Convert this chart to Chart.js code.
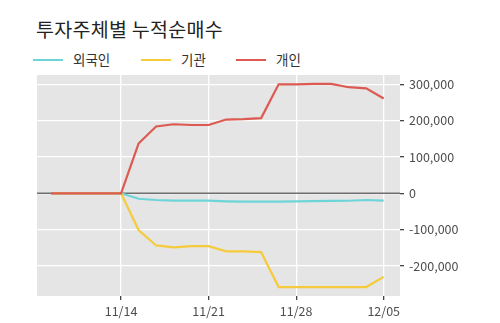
<!DOCTYPE html>
<html><head><meta charset="utf-8">
<script src="https://cdn.jsdelivr.net/npm/chart.js@4/dist/chart.umd.min.js"></script>
<style>
html,body{margin:0;padding:0;background:#fff;}
#wrap{position:relative;width:500px;height:323px;font-family:"Noto Sans CJK KR","Noto Sans",sans-serif;}
#title{position:absolute;left:36px;top:14px;font-size:19.5px;color:#222;white-space:nowrap;letter-spacing:0.3px;}
#legend{position:absolute;left:33px;top:50px;height:20px;}
.li{position:absolute;top:0;height:20px;font-size:13.5px;color:#333;line-height:20px;white-space:nowrap;}
.li span.ln{position:absolute;left:0;top:9px;width:30px;height:2px;}
.li span.tx{position:absolute;left:40px;top:-1px;}
canvas{position:absolute;left:0;top:0;}
</style></head>
<body><div id="wrap">
<div id="title">투자주체별 누적순매수</div>
<div id="legend"></div>
<canvas id="c" width="500" height="323"></canvas>
</div>
<script>
const dates = ['11/08','11/11','11/12','11/13','11/14','11/15','11/18','11/19','11/20','11/21','11/22','11/25','11/26','11/27','11/28','11/29','12/02','12/03','12/04','12/05'];
const tickLabels = ['11/14','11/21','11/28','12/05'];
const seriesNames = ['외국인','기관','개인'];
const seriesColors = ['#6dd5d8','#f5cb3c','#dc5a52'];
const foreign = [0,0,0,0,0,-15000,-18500,-20000,-20000,-20000,-22000,-23000,-23000,-23000,-22000,-21500,-21000,-20500,-18500,-20000];
const institution = [0,0,0,0,0,-101000,-143600,-149000,-145600,-145600,-160000,-160000,-162000,-258000,-258000,-258000,-258000,-258000,-258000,-230000];
const individual = [0,0,0,0,0,137000,184000,190000,188000,188000,203000,204000,207000,300000,300000,301000,301000,292000,289000,261000];
const yTicks = [-200000,-100000,0,100000,200000,300000];

const allSeries = [foreign, institution, individual];
const datasets = allSeries.map((arr,i)=>({
  label: seriesNames[i],
  data: arr.map((v,j)=>({x:j,y:v})),
  borderColor: seriesColors[i],
  backgroundColor: seriesColors[i],
  borderWidth: 2.2,
  pointRadius: 0,
  tension: 0,
  fill: false,
  order: allSeries.length - 1 - i
}));

// HTML legend
const legendOffsets = [0,108,203];
const lg = document.getElementById('legend');
seriesNames.forEach((n,i)=>{
  const d = document.createElement('div');
  d.className='li'; d.style.left = legendOffsets[i]+'px';
  d.innerHTML = '<span class="ln" style="background:'+seriesColors[i]+'"></span><span class="tx">'+n+'</span>';
  lg.appendChild(d);
});

const bgPlugin = {
  id:'bg',
  beforeDraw(chart){
    const {ctx, chartArea:a} = chart;
    ctx.save(); ctx.fillStyle='#e5e5e5';
    ctx.fillRect(a.left,a.top,a.right-a.left,a.bottom-a.top);
    ctx.restore();
  }
};
const zeroPlugin = {
  id:'zero',
  beforeDatasetsDraw(chart){
    const {ctx, chartArea:a, scales} = chart;
    const y = scales.y.getPixelForValue(0);
    ctx.save(); ctx.strokeStyle='#6f6f6f'; ctx.lineWidth=1.5;
    ctx.beginPath(); ctx.moveTo(a.left,y); ctx.lineTo(a.right,y); ctx.stroke();
    ctx.restore();
  }
};

new Chart(document.getElementById('c'), {
  type:'line',
  data:{datasets},
  options:{
    responsive:false, animation:false,
    layout:{padding:{left:37,top:75,right:0,bottom:0}},
    plugins:{legend:{display:false}, title:{display:false}, tooltip:{enabled:false}},
    scales:{
      x:{
        type:'linear', min:-0.8, max:19.93,
        afterBuildTicks(s){ s.ticks = tickLabels.map(t=>({value:dates.indexOf(t)})); },
        afterFit(s){ s.height = 27; },
        ticks:{ autoSkip:false, maxRotation:0, padding:4, color:'#4d4d4d',
          font:{family:'"Noto Sans CJK KR","Noto Sans",sans-serif', size:12.5},
          callback(v){ return dates[v]; } },
        grid:{ color:'#ffffff', lineWidth:1.3, tickColor:'#444', tickLength:4, drawTicks:true },
        border:{display:false}
      },
      y:{
        position:'right', min:-282700, max:325600,
        afterBuildTicks(s){ s.ticks = yTicks.map(v=>({value:v})); },
        afterFit(s){ s.width = 100; },
        ticks:{ padding:5, color:'#4d4d4d',
          font:{family:'"Noto Sans CJK KR","Noto Sans",sans-serif', size:12.5},
          callback(v){ return v.toLocaleString('en-US'); } },
        grid:{ color:'#ffffff', lineWidth:1.3, tickColor:'#444', tickLength:4, drawTicks:true },
        border:{display:false}
      }
    }
  },
  plugins:[bgPlugin, zeroPlugin]
});
</script>
</body></html>
